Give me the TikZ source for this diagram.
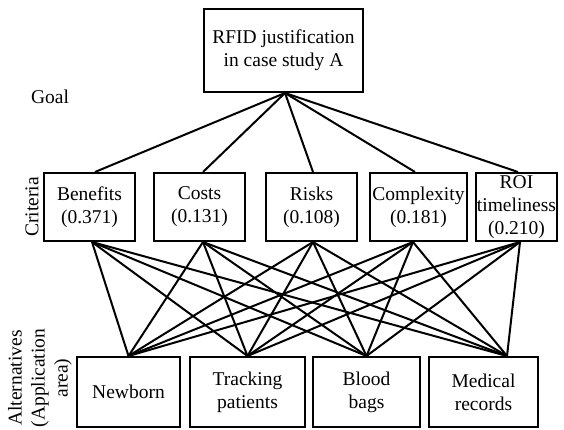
\documentclass[tikz,border=0pt]{standalone}
\usepackage{fontspec}
\setmainfont{Liberation Serif}
\begin{document}
\begin{tikzpicture}[x=1pt,y=-1pt,
  font=\fontsize{19.5}{23}\selectfont,
  box/.style={draw,line width=2pt,inner sep=0pt,align=center,minimum height=68pt},
  altbox/.style={box,minimum height=70pt},
  link/.style={line width=2pt},
  lbl/.style={inner sep=0pt,align=center}]
\useasboundingbox (0,0) rectangle (564,430);
% goal
\node[box,minimum width=159pt,minimum height=83pt] (goal) at (283.5,50.5) {RFID justification\\in case study A};
% criteria
\node[box,minimum width=91pt] (ben) at (89.5,207) {Benefits\\(0.371)};
\node[box,minimum width=91pt] (cost) at (199.5,207) {Costs\\(0.131)};
\node[box,minimum width=91pt] (risk) at (311.5,207) {Risks\\(0.108)};
\node[box,minimum width=97pt] (comp) at (418.5,207) {Complexity\\(0.181)};
\node[box,minimum width=81pt] (roi) at (516.5,207) {ROI\\timeliness\\(0.210)};
% alternatives
\node[altbox,minimum width=103pt] (newb) at (128.5,392) {Newborn};
\node[altbox,minimum width=115pt] (track) at (247.5,392) {Tracking\\patients};
\node[altbox,minimum width=107pt] (blood) at (366.5,392) {Blood\\bags};
\node[altbox,minimum width=109pt] (med) at (483.5,392) {Medical\\records};
% labels
\node[lbl] (goallbl) at (50,97) {Goal};
\node[lbl,rotate=90] (critlbl) at (32,207) {Criteria};
\node[lbl,rotate=90] (altlbl) at (40,378) {Alternatives\\(Application\\area)};
% connector end points
\coordinate (gB) at ([xshift=1.5pt]goal.south);
\coordinate (benT) at ([xshift=5.5pt]ben.north);
\coordinate (costT) at ([xshift=3.5pt]cost.north);
\coordinate (riskT) at ([xshift=1.5pt]risk.north);
\coordinate (compT) at ([xshift=-3.5pt]comp.north);
\coordinate (roiT) at ([xshift=1.5pt]roi.north);
\coordinate (benB) at ([xshift=2.5pt]ben.south);
\coordinate (costB) at ([xshift=3.5pt]cost.south);
\coordinate (riskB) at ([xshift=1.5pt]risk.south);
\coordinate (compB) at ([xshift=-5.5pt]comp.south);
\coordinate (roiB) at ([xshift=3.5pt]roi.south);
\coordinate (newbT) at (newb.north);
\coordinate (trackT) at (track.north);
\coordinate (bloodT) at (blood.north);
\coordinate (medT) at ([xshift=23.5pt]med.north);
% goal to criteria
\foreach \c in {ben,cost,risk,comp,roi}
  \draw[link] (gB) -- (\c T);
% criteria to alternatives
\foreach \c in {ben,cost,risk,comp,roi}
  \foreach \a in {newb,track,blood,med}
    \draw[link] (\c B) -- (\a T);
\end{tikzpicture}
\end{document}
